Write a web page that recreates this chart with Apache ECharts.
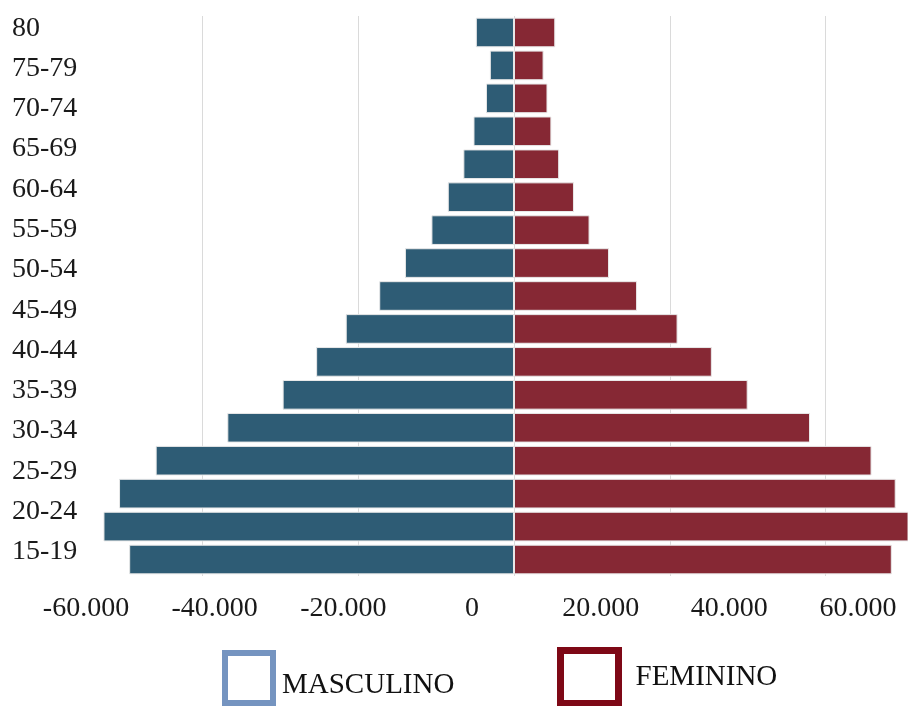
<!DOCTYPE html>
<html><head><meta charset="utf-8">
<script src="https://cdn.jsdelivr.net/npm/echarts@6/dist/echarts.min.js"></script>
<style>html,body{margin:0;padding:0;background:#fff}#c{width:908px;height:706px}</style>
</head><body><div id="c"></div>
<script>
// bar categories (bottom to top)
const ageGroups = ['0-4','5-9','10-14','15-19','20-24','25-29','30-34','35-39','40-44','45-49','50-54','55-59','60-64','65-69','70-74','75-79','80'];
const masculino = [-49400,-52700,-50700,-46000,-36800,-29700,-25400,-21600,-17300,-14000,-10600,-8500,-6500,-5200,-3600,-3100,-4900];
const feminino  = [48500,52000,49000,45900,38000,30000,25400,21000,15800,12200,9700,7700,5800,4800,4300,3800,5300];
// tick labels as printed on the picture
const ageTickLabels = ['15-19','20-24','25-29','30-34','35-39','40-44','45-49','50-54','55-59','60-64','65-69','70-74','75-79','80'];
const valueTicks = [-60000,-40000,-20000,0,20000,40000,60000];
const seriesNames = ['MASCULINO','FEMININO'];

const FONT = '"Liberation Serif","Times New Roman",serif';
const fmt = v => v === 0 ? '0' : (v < 0 ? '-' : '') + String(Math.abs(v)).replace(/\B(?=(\d{3})+(?!\d))/g, '.');
const step = valueTicks[1] - valueTicks[0];

const chart = echarts.init(document.getElementById('c'), null, {renderer:'canvas'});
chart.setOption({
  animation: false,
  backgroundColor: '#ffffff',
  grid: [
    {left: 46.6, right: 0, top: 16, height: 560, containLabel: false},
    {left: 86, width: 772, top: 8, height: 564, containLabel: false}
  ],
  xAxis: [
    {gridIndex: 0, type: 'value', min: valueTicks[0], max: 50580, interval: step,
     axisLine: {show: false}, axisTick: {show: false}, axisLabel: {show: false},
     splitLine: {show: true, showMinLine: false, showMaxLine: false, lineStyle: {color: '#dadada', width: 1}}},
    {gridIndex: 1, type: 'value', min: valueTicks[0], max: valueTicks[valueTicks.length-1], interval: step,
     axisLine: {show: false}, axisTick: {show: false}, splitLine: {show: false},
     axisLabel: {fontFamily: FONT, fontSize: 28, color: '#1a1a1a', margin: 23, formatter: fmt}}
  ],
  yAxis: [
    {gridIndex: 0, type: 'category', data: ageGroups, show: false},
    {gridIndex: 1, type: 'category', data: ageTickLabels,
     axisLine: {show: false}, axisTick: {show: false}, splitLine: {show: false},
     axisLabel: {interval: 0, align: 'left', margin: 74, fontFamily: FONT, fontSize: 28, color: '#1a1a1a'}}
  ],
  legend: [
    {data: [seriesNames[0]], left: 222, top: 650, padding: 0, icon: 'rect', itemWidth: 48, itemHeight: 50,
     itemStyle: {color: '#ffffff', borderColor: '#7594c0', borderWidth: 6},
     formatter: '{m|{name}}',
     textStyle: {fontFamily: FONT, fontSize: 29, color: '#111',
       rich: {m: {fontFamily: FONT, fontSize: 29, color: '#111', padding: [14, 0, 0, 4]}}}},
    {data: [seriesNames[1]], left: 557, top: 647, padding: 0, icon: 'rect', itemWidth: 58, itemHeight: 53,
     itemStyle: {color: '#ffffff', borderColor: '#7e0816', borderWidth: 7},
     textStyle: {fontFamily: FONT, fontSize: 29, color: '#111', padding: [0, 0, 0, 12]}}
  ],
  series: [
    {name: seriesNames[0], type: 'bar', xAxisIndex: 0, yAxisIndex: 0, data: masculino,
     barGap: '-100%', barCategoryGap: '10%',
     itemStyle: {color: '#2e5c75', borderColor: '#e9e9e9', borderWidth: 1}},
    {name: seriesNames[1], type: 'bar', xAxisIndex: 0, yAxisIndex: 0, data: feminino,
     barGap: '-100%', barCategoryGap: '10%',
     itemStyle: {color: '#862834', borderColor: '#e9e9e9', borderWidth: 1}}
  ]
});
</script></body></html>
